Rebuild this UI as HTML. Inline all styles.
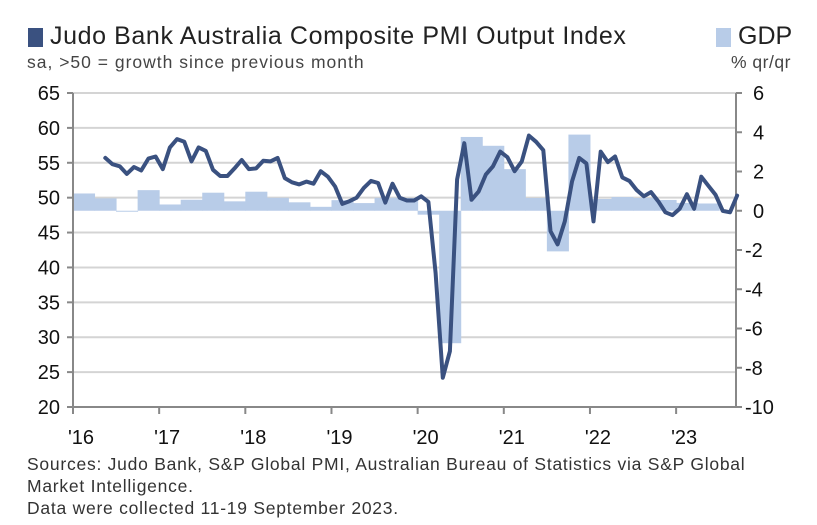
<!DOCTYPE html>
<html><head><meta charset="utf-8">
<style>
body{margin:0;background:#fff;font-family:"Liberation Sans",sans-serif;}
#wrap{position:relative;width:817px;height:525px;overflow:hidden;}
.t{position:absolute;white-space:nowrap;color:#222;}
</style></head>
<body>
<div id="wrap">
<div class="t" style="left:28px;top:28px;width:15px;height:19px;background:#3a5180;"></div>
<div class="t" style="left:50px;top:22px;font-size:25px;letter-spacing:0.6px;">Judo Bank Australia Composite PMI Output Index</div>
<div class="t" style="left:27px;top:52px;font-size:17.5px;letter-spacing:1px;color:#444;">sa, &gt;50 = growth since previous month</div>
<div class="t" style="left:716px;top:28px;width:15px;height:19px;background:#b8cce8;"></div>
<div class="t" style="left:738px;top:22px;font-size:25px;">GDP</div>
<div class="t" style="left:731px;top:52px;font-size:17.5px;letter-spacing:0.5px;color:#444;">% qr/qr</div>
<svg id="chart" width="817" height="525" style="position:absolute;left:0;top:0"></svg>
<div class="t" style="left:27px;top:453px;font-size:17.5px;letter-spacing:0.75px;line-height:22px;color:#333;">Sources: Judo Bank, S&amp;P Global PMI, Australian Bureau of Statistics via S&amp;P Global<br>Market Intelligence.<br>Data were collected 11-19 September 2023.</div>
</div>
<script>
const pmiStartMonth = 4; // May 2016 (months since Jan 2016)
const pmiValues = [55.7,54.8,54.5,53.4,54.4,53.9,55.6,55.9,
54.1,57.2,58.4,58.0,55.2,57.2,56.7,54.0,53.1,53.1,54.2,55.4,
54.1,54.2,55.3,55.2,55.7,52.8,52.2,51.9,52.3,52.0,53.8,53.0,
51.6,49.1,49.5,50.0,51.4,52.4,52.1,49.3,52.0,50.0,49.6,49.6,
50.2,49.4,39.2,24.2,28.0,52.6,57.8,49.7,50.9,53.3,54.5,56.6,
55.8,53.8,55.2,58.9,58.0,56.8,45.2,43.3,46.6,52.3,55.7,54.9,
46.6,56.6,55.1,55.9,52.9,52.4,51.1,50.2,50.8,49.5,47.9,47.5,
48.4,50.5,48.4,53.0,51.7,50.4,48.1,47.9,50.3];
const gdpValues = [0.88,0.63,-0.05,1.05,0.32,0.56,0.92,0.48,0.97,0.66,0.43,0.2,0.54,0.39,0.66,0.65,
-0.2,-6.75,3.76,3.31,2.12,0.65,-2.07,3.88,0.6,0.7,0.65,0.55,0.4,0.37];
const leftTicks = [65,60,55,50,45,40,35,30,25,20];
const rightTicks = [6,4,2,0,-2,-4,-6,-8,-10];
const yearLabels = ["'16","'17","'18","'19","'20","'21","'22","'23"];

const X0=73,X1=736,Y0=93,Y1=407,MPX=7.18;
const xM = m => X0 + m*MPX;
const yL = v => Y0 + (65-v)*(Y1-Y0)/45;
const yR = v => Y0 + (6-v)*(Y1-Y0)/16;
const svg=document.getElementById('chart');
const NS='http://www.w3.org/2000/svg';
function mk(tag,attrs){const e=document.createElementNS(NS,tag);for(const k in attrs)e.setAttribute(k,attrs[k]);svg.appendChild(e);return e;}

leftTicks.forEach(v=>{
  const y=yL(v);
  if(v!==20){const g=mk('line',{x1:X0,x2:X1,y1:y,y2:y,stroke:'#d4d4d4','stroke-width':2});
  
  }
  const tk=mk('line',{x1:X0-6,x2:X0,y1:y,y2:y,stroke:'#888','stroke-width':2});
  
  
  const t=mk('text',{x:X0-13,y:y+7,'text-anchor':'end','font-size':20,fill:'#111'});
  t.textContent=v;
  
  
});
rightTicks.forEach(v=>{
  const y=yR(v);
  const tk=mk('line',{x1:X1,x2:X1+6,y1:y,y2:y,stroke:'#888','stroke-width':2});
  
  
  const t=mk('text',{x:v<0?X1+9:X1+17,y:y+7,'text-anchor':'start','font-size':20,fill:'#111'});
  t.textContent=v;
  
  
});
gdpValues.forEach((v,i)=>{
  const xa=xM(i*3),xb=xM(i*3+3);
  const y0=yR(0),y=yR(v);
  const r=mk('rect',{x:xa,y:Math.min(y,y0),width:xb-xa+0.5,height:Math.abs(y-y0),fill:'#b8cce8'});
  
  
});
[[X0,Y0,X0,Y1],[X1,Y0,X1,Y1],[X0,Y1,X1,Y1]].forEach(a=>{
  const l=mk('line',{x1:a[0],y1:a[1],x2:a[2],y2:a[3],stroke:'#888','stroke-width':2});
  
  
});
yearLabels.forEach((lab,i)=>{
  const x=xM(i*12);
  const tk=mk('line',{x1:x,x2:x,y1:Y1,y2:Y1+7,stroke:'#888','stroke-width':2});
  
  
  const t=mk('text',{x:x+8,y:Y1+37,'text-anchor':'middle','font-size':20,fill:'#111'});
  t.textContent=lab;
  
  
});
const pts=pmiValues.map((v,i)=>xM(pmiStartMonth+i+0.5).toFixed(1)+','+yL(v).toFixed(1)).join(' ');
const pl=mk('polyline',{points:pts,fill:'none',stroke:'#3a5180','stroke-width':4,'stroke-linejoin':'round','stroke-linecap':'round'});


</script>
</body></html>
